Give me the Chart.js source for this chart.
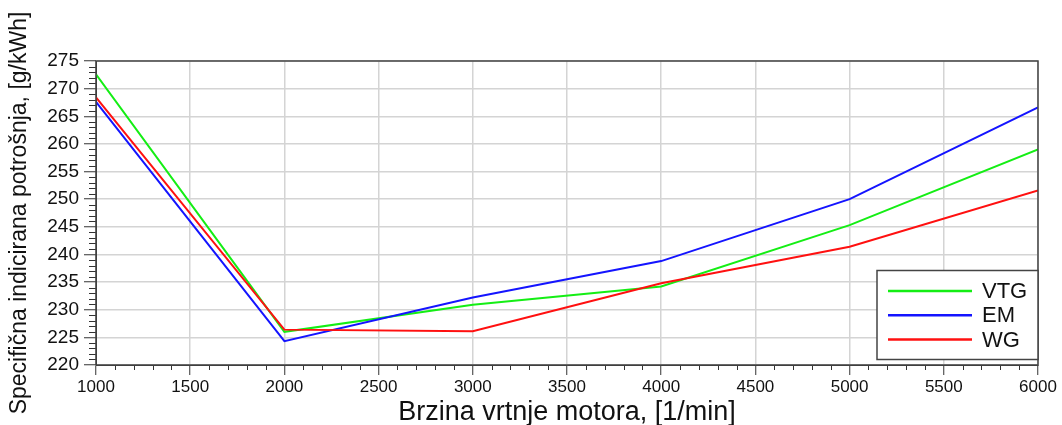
<!DOCTYPE html>
<html>
<head>
<meta charset="utf-8">
<script src="https://cdn.jsdelivr.net/npm/chart.js@4"></script>
<style>
html,body{margin:0;padding:0;background:#fff;}
#wrap{width:1062px;height:425px;position:relative;}
</style>
</head>
<body>
<div id="wrap"><canvas id="c" width="1062" height="425"></canvas></div>
<script>
const rpm = [1000, 2000, 3000, 4000, 5000, 6000];
const vtg = [272.6, 226.0, 230.9, 234.2, 245.3, 259.0];
const em  = [267.6, 224.3, 232.2, 238.8, 250.0, 266.6];
const wg  = [268.4, 226.4, 226.1, 234.8, 241.4, 251.6];
const seriesNames = ['VTG', 'EM', 'WG'];
const seriesColors = ['#14ee14', '#1414ff', '#ff1010'];
const xTitle = 'Brzina vrtnje motora, [1/min]';
const yTitle = 'Specifična indicirana potrošnja, [g/kWh]';

const FONT = "'Liberation Sans', Arial, sans-serif";
const NARROW = "'Liberation Sans Narrow', 'Liberation Sans', Arial, sans-serif";

function pts(ys){ return rpm.map((x,i)=>({x:x, y:ys[i]})); }

const minorTicks = {
  id:'minorTicks',
  afterDraw(chart){
    const ctx = chart.ctx, ca = chart.chartArea;
    const xs = chart.scales.x, ys = chart.scales.y;
    ctx.save();
    ctx.strokeStyle = '#333';
    ctx.lineWidth = 1;
    ctx.beginPath();
    for (let v = 220; v <= 275; v++) {
      if (v % 5 === 0) continue;
      const p = Math.round(ys.getPixelForValue(v)) + 0.5;
      ctx.moveTo(ca.left - 7, p); ctx.lineTo(ca.left, p);
    }
    for (let v = 1000; v <= 6000; v += 100) {
      if (v % 500 === 0) continue;
      const p = Math.round(xs.getPixelForValue(v)) + 0.5;
      ctx.moveTo(p, ca.bottom); ctx.lineTo(p, ca.bottom + 5);
    }
    ctx.stroke();
    ctx.strokeStyle = '#444';
    ctx.lineWidth = 1.5;
    ctx.strokeRect(ca.left, ca.top, ca.right - ca.left, ca.bottom - ca.top);
    const bx = 877, by = 270.5, bw = ca.right - 877, bh = 89;
    ctx.fillStyle = '#fff';
    ctx.fillRect(bx, by, bw, bh);
    ctx.strokeStyle = '#444';
    ctx.lineWidth = 1.5;
    ctx.strokeRect(bx, by, bw, bh);
    ctx.font = '22px ' + FONT;
    ctx.textBaseline = 'middle';
    ctx.textAlign = 'left';
    chart.data.datasets.forEach((ds, i) => {
      const yy = by + 20.5 + i * 24.3;
      ctx.strokeStyle = ds.borderColor;
      ctx.lineWidth = 2.5;
      ctx.beginPath();
      ctx.moveTo(888, yy); ctx.lineTo(972, yy);
      ctx.stroke();
      ctx.fillStyle = '#111';
      ctx.fillText(ds.label, 982, yy + 1);
    });
    ctx.restore();
  }
};

new Chart(document.getElementById('c'), {
  type: 'line',
  data: {
    datasets: seriesNames.map((n, i) => ({
      label: n,
      data: pts([vtg, em, wg][i]),
      borderColor: seriesColors[i],
      backgroundColor: seriesColors[i],
      borderWidth: 2,
      pointRadius: 0,
      tension: 0,
      fill: false,
      order: 3 - i
    }))
  },
  options: {
    responsive: false,
    animation: false,
    layout: { padding: { top: 61, right: 24, left: 0, bottom: 0 } },
    plugins: { legend: { display: false }, tooltip: { enabled: false } },
    scales: {
      x: {
        type: 'linear',
        min: 1000, max: 6000,
        afterFit(s){ s.height = 60; },
        ticks: { stepSize: 500, color: '#111', padding: 2, maxRotation: 0,
                 callback: v => String(v),
                 font: { family: NARROW, size: 17 } },
        grid: { color: '#d4d4d4', lineWidth: 1.5, tickColor: '#333', tickLength: 10, tickWidth: 1 },
        border: { color: '#333', width: 1 },
        title: { display: true, text: xTitle, color: '#111',
                 font: { family: FONT, size: 27 }, padding: { top: 0, bottom: -4 } }
      },
      y: {
        min: 220, max: 275,
        afterFit(s){ s.width = 96; },
        ticks: { stepSize: 5, color: '#111', padding: 5,
                 callback: v => String(v),
                 font: { family: FONT, size: 19 } },
        grid: { color: '#d4d4d4', lineWidth: 1.5, tickColor: '#333', tickLength: 12, tickWidth: 1 },
        border: { color: '#333', width: 1 },
        title: { display: true, text: yTitle, color: '#111',
                 font: { family: FONT, size: 23 }, padding: { top: 6, bottom: 0 } }
      }
    }
  },
  plugins: [minorTicks]
});
</script>
</body>
</html>
